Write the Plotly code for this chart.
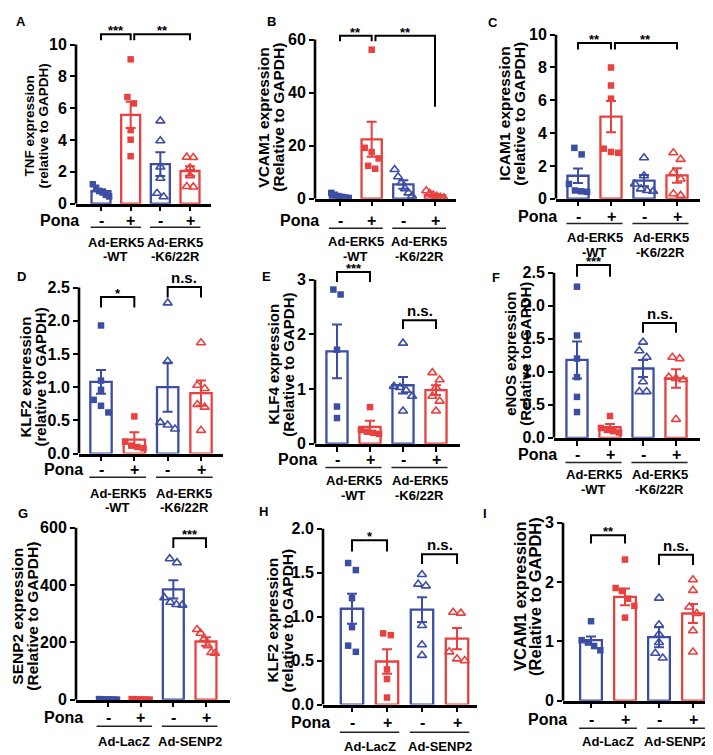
import plotly.graph_objects as go

W, H = 713, 755
BLUE = "#3b4ea3"
RED = "#e8413f"
FONT = "Liberation Sans, Arial, Helvetica, sans-serif"

# ---------------- data ----------------
pona_ticks = ["-", "+", "-", "+"]
groups_erk = [("Ad-ERK5", "-WT"), ("Ad-ERK5", "-K6/22R")]
groups_senp = [("Ad-LacZ", ""), ("Ad-SENP2", "")]

A_title = ["TNF expression", "(relative to GAPDH)"]
A_means = [0.78, 5.58, 2.48, 2.05]
A_sems = [0.12, 0.82, 0.75, 0.30]
A_points = [[1.22, 1.0, 0.8, 0.7, 0.55, 0.45],
            [9.07, 6.7, 6.3, 4.62, 4.02, 2.98],
            [5.2, 3.95, 2.3, 1.6, 0.65, 0.43],
            [2.92, 2.9, 2.25, 1.75, 1.08, 1.05]]
A_ticks = [0, 2, 4, 6, 8, 10]
A_brackets = [(0, 1, 10.64, 10.27, 10.27, "***"), (1, 3, 10.64, 10.27, 10.27, "**")]

B_title = ["VCAM1 expression", "(Relative to GAPDH)"]
B_means = [1.0, 22.4, 5.4, 1.3]
B_sems = [0.3, 6.6, 1.6, 0.4]
B_points = [[2.2, 1.5, 1.0, 0.7, 0.5, 0.3],
            [56.2, 19.2, 17.6, 15.2, 12.4, 11.3],
            [11.0, 8.3, 6.0, 3.8, 2.2, 1.0],
            [3.0, 2.0, 1.4, 0.9, 0.5, 0.3]]
B_ticks = [0, 20, 40, 60]
B_brackets = [(0, 1, 61.5, 59.4, 59.4, "**"), (1, 3, 61.5, 59.4, 34.7, "**")]

C_title = ["ICAM1 expression", "(relative to GAPDH)"]
C_means = [1.4, 5.0, 1.1, 1.42]
C_sems = [0.44, 0.95, 0.34, 0.44]
C_points = [[3.1, 2.7, 0.9, 0.5, 0.45, 0.42],
            [8.0, 6.9, 6.1, 3.05, 2.85, 2.8],
            [2.5, 1.4, 0.9, 0.6, 0.5, 0.45],
            [2.8, 2.4, 1.6, 1.2, 0.3, 0.2]]
C_ticks = [0, 2, 4, 6, 8, 10]
C_brackets = [(0, 1, 9.5, 9.1, 9.1, "**"), (1, 3, 9.5, 9.1, 9.1, "**")]

D_title = ["KLF2 expression", "(relative to GAPDH)"]
D_means = [1.08, 0.21, 1.0, 0.91]
D_sems = [0.18, 0.11, 0.37, 0.19]
D_points = [[1.93, 1.1, 0.96, 0.81, 0.72, 0.62],
            [0.56, 0.18, 0.12, 0.1, 0.08],
            [2.27, 1.39, 0.47, 0.43, 0.37],
            [1.67, 1.03, 0.98, 0.74, 0.7, 0.35]]
D_ticks = [0.0, 0.5, 1.0, 1.5, 2.0, 2.5]
D_brackets = [(0, 1, 2.36, 2.2, 2.2, "*"), (2, 3, 2.51, 2.35, 2.35, "n.s.")]

E_title = ["KLF4 expression", "(Relative to GAPDH)"]
E_means = [1.69, 0.31, 1.07, 0.98]
E_sems = [0.49, 0.11, 0.15, 0.09]
E_points = [[2.82, 2.73, 1.72, 0.68, 0.47],
            [0.67, 0.25, 0.22, 0.2, 0.18],
            [1.84, 1.05, 1.03, 0.98, 0.87, 0.6],
            [1.3, 1.17, 1.03, 0.87, 0.78, 0.6]]
E_ticks = [0, 1, 2, 3]
E_brackets = [(0, 1, 3.14, 2.96, 2.96, "***"), (2, 3, 2.26, 2.1, 2.1, "n.s.")]

F_title = ["eNOS expression", "(Relative to GAPDH)"]
F_means = [1.18, 0.16, 1.05, 0.9]
F_sems = [0.28, 0.05, 0.13, 0.14]
F_points = [[2.29, 1.55, 1.2, 0.92, 0.62, 0.39],
            [0.33, 0.15, 0.12, 0.1, 0.08],
            [1.45, 1.32, 1.22, 0.85, 0.7, 0.7],
            [1.22, 1.2, 0.92, 0.9, 0.88, 0.28]]
F_ticks = [0.0, 0.5, 1.0, 1.5, 2.0, 2.5]
F_brackets = [(0, 1, 2.62, 2.44, 2.44, "***"), (2, 3, 1.74, 1.59, 1.59, "n.s.")]

G_title = ["SENP2 expression", "(Relative to GAPDH)"]
G_means = [1.0, 1.0, 385, 203]
G_sems = [0.3, 0.3, 32, 15]
G_points = [[2.0, 1.5, 1.0, 0.8, 0.5, 0.3],
            [2.0, 1.5, 1.0, 0.8, 0.5, 0.3],
            [492, 478, 356, 340, 332, 330],
            [245, 232, 213, 188, 165, 162]]
G_ticks = [0, 200, 400, 600]
G_brackets = [(2, 3, 563, 529, 529, "***")]

H_title = ["KLF2 expression", "(relative to GAPDH)"]
H_means = [1.09, 0.49, 1.08, 0.75]
H_sems = [0.17, 0.14, 0.14, 0.12]
H_points = [[1.61, 1.53, 1.21, 0.88, 0.67, 0.6],
            [0.81, 0.79, 0.4, 0.29, 0.08],
            [1.48, 1.37, 1.35, 0.9, 0.68, 0.56],
            [1.05, 1.04, 0.6, 0.52, 0.5]]
H_ticks = [0.0, 0.5, 1.0, 1.5, 2.0]
H_brackets = [(0, 1, 1.87, 1.74, 1.74, "*"), (2, 3, 1.71, 1.6, 1.6, "n.s.")]

I_title = ["VCAM1 expression", "(Relative to GAPDH)"]
I_means = [1.02, 1.75, 1.07, 1.47]
I_sems = [0.06, 0.14, 0.17, 0.16]
I_points = [[1.34, 1.02, 0.98, 0.92, 0.85],
            [2.38, 1.9, 1.85, 1.72, 1.6, 1.4],
            [1.73, 1.28, 1.12, 0.98, 0.8, 0.72],
            [2.04, 1.86, 1.58, 1.47, 1.18, 0.82]]
I_ticks = [0, 1, 2, 3]
I_brackets = [(0, 1, 2.79, 2.65, 2.65, "**"), (2, 3, 2.46, 2.29, 2.29, "n.s.")]

# ---------------- layout geometry (pixels) ----------------
GEOM = [
    dict(L="A", d=(A_title, A_means, A_sems, A_points, A_ticks, A_brackets, groups_erk),
         ax=(68, 203), bars=(93, 122, 152, 182), y0=198, yt=37, pona=(73, 215), ul=222, lab=237,
         tt=(22, 36, 120, 13.5), let=(13, 14), fmt="{:g}"),
    dict(L="B", d=(B_title, B_means, B_sems, B_points, B_ticks, B_brackets, groups_erk),
         ax=(307, 448), bars=(332, 364, 396, 427), y0=193, yt=32, pona=(313, 215), ul=223, lab=236,
         tt=(256, 271, 111, 15.5), let=(263, 14), fmt="{:g}"),
    dict(L="C", d=(C_title, C_means, C_sems, C_points, C_ticks, C_brackets, groups_erk),
         ax=(548, 692), bars=(570, 603, 637, 669), y0=193, yt=27, pona=(551, 211), ul=218, lab=232,
         tt=(497, 512, 107, 15.5), let=(485, 15), fmt="{:g}"),
    dict(L="D", d=(D_title, D_means, D_sems, D_points, D_ticks, D_brackets, groups_erk),
         ax=(71, 215), bars=(93, 126, 162, 193), y0=451, yt=283, pona=(77, 467), ul=475, lab=491,
         tt=(18, 33, 374, 15), let=(13, 272), fmt="{:.1f}"),
    dict(L="E", d=(E_title, E_means, E_sems, E_points, E_ticks, E_brackets, groups_erk),
         ax=(307, 452), bars=(329, 362, 395, 428), y0=441, yt=275, pona=(311, 457), ul=465, lab=478,
         tt=(266, 281, 361, 15), let=(258, 272), fmt="{:g}"),
    dict(L="F", d=(F_title, F_means, F_sems, F_points, F_ticks, F_brackets, groups_erk),
         ax=(546, 692), bars=(569, 603, 635, 668), y0=435, yt=268, pona=(551, 452), ul=460, lab=472,
         tt=(503, 518, 350, 15), let=(488, 273), fmt="{:.1f}"),
    dict(L="G", d=(G_title, G_means, G_sems, G_points, G_ticks, G_brackets, groups_senp),
         ax=(68, 222), bars=(100, 132, 164, 198), y0=700, yt=526, pona=(77, 718), ul=727, lab=742,
         tt=(10, 25, 616, 15.5), let=(15, 512), fmt="{:g}"),
    dict(L="H", d=(H_title, H_means, H_sems, H_points, H_ticks, H_brackets, groups_senp),
         ax=(315, 469), bars=(344, 380, 416, 449), y0=705, yt=527, pona=(324, 723), ul=733, lab=747,
         tt=(265, 280, 620, 15.5), let=(255, 510), fmt="{:.1f}"),
    dict(L="I", d=(I_title, I_means, I_sems, I_points, I_ticks, I_brackets, groups_senp),
         ax=(555, 710), bars=(583, 615, 653, 685), y0=701, yt=521, pona=(561, 720), ul=729, lab=742,
         tt=(512, 527, 596, 16.5), let=(477, 512), fmt="{:g}"),
]


def fx(px):
    return px / W


def fy(py):
    return 1 - py / H


def bold(t):
    return f"<b>{t}</b>"


def swarm(vals, ymax, dx=0.22, thr=0.045):
    order = sorted(range(len(vals)), key=lambda i: -vals[i])
    offs = [0.0] * len(vals)
    clusters = []
    for i in order:
        if clusters and abs(vals[clusters[-1][-1]] - vals[i]) < thr * ymax:
            clusters[-1].append(i)
        else:
            clusters.append([i])
    for c in clusters:
        n = len(c)
        step = dx if n < 4 else min(dx, 0.55 / (n - 1))
        for k, i in enumerate(c):
            offs[i] = (k - (n - 1) / 2) * step
    return offs


fig = go.Figure()
layout = dict(width=W, height=H, margin=dict(l=0, r=0, t=0, b=0),
              paper_bgcolor="white", plot_bgcolor="rgba(0,0,0,0)",
              showlegend=False, barmode="overlay",
              font=dict(family=FONT, color="black"))
shapes, annots = [], []
colors = [BLUE, RED, BLUE, RED]
symbols = ["square", "square", "triangle-up-open", "triangle-up-open"]

for n, g in enumerate(GEOM, start=1):
    title, means, sems, points, ticks, brackets, groups = g["d"]
    xid = "x" if n == 1 else f"x{n}"
    yid = "y" if n == 1 else f"y{n}"
    xk = "xaxis" if n == 1 else f"xaxis{n}"
    yk = "yaxis" if n == 1 else f"yaxis{n}"
    ymax = ticks[-1]
    b = g["bars"]
    s = (b[3] - b[0]) / 3
    r0 = (g["ax"][0] - b[0]) / s
    r1 = (g["ax"][1] - b[0]) / s
    k = (g["y0"] - g["yt"]) / ymax
    top_px = max(2, g["yt"] - 34)
    ytop_range = (g["y0"] - top_px) / k

    cats = [0, 1, 2, 3]
    for ci, col in ((0, BLUE), (1, RED)):
        idx = [ci, ci + 2]
        fig.add_trace(go.Bar(
            x=[cats[i] for i in idx], y=[means[i] for i in idx], width=0.64,
            marker=dict(color="white", line=dict(color=col, width=2.3)),
            error_y=dict(type="data", array=[sems[i] for i in idx], color=col,
                         thickness=2, width=5),
            xaxis=xid, yaxis=yid, hoverinfo="skip"))
    for i in range(4):
        offs = swarm(points[i], ymax)
        tri = i >= 2
        fig.add_trace(go.Scatter(
            x=[cats[i] + o for o in offs], y=points[i], mode="markers",
            marker=dict(symbol=symbols[i], size=8 if tri else 6.5, color=colors[i],
                        line=dict(color=colors[i], width=1.6 if tri else 0)),
            xaxis=xid, yaxis=yid, hoverinfo="skip", cliponaxis=False))

    layout[xk] = dict(domain=[fx(g["ax"][0]), fx(g["ax"][1])], range=[r0, r1],
                      anchor=yid, showline=True, linewidth=2.6, linecolor="black",
                      ticks="outside", ticklen=5, tickwidth=2, tickcolor="black",
                      tickvals=cats, showticklabels=False,
                      showgrid=False, zeroline=False, fixedrange=True)
    layout[yk] = dict(domain=[fy(g["y0"]), fy(top_px)], range=[0, ytop_range],
                      anchor=xid, showline=False, ticks="outside", ticklen=5,
                      tickwidth=2, tickcolor="black", tickvals=ticks,
                      ticktext=[bold(g["fmt"].format(t)) for t in ticks],
                      tickfont=dict(size=16, family=FONT, color="black"),
                      ticklabelstandoff=0,
                      showgrid=False, zeroline=False, fixedrange=True)
    shapes.append(dict(type="line", xref=f"{xid} domain", yref=yid, x0=0, x1=0,
                       y0=0, y1=ymax, line=dict(color="black", width=2.6)))
    prev_end = None
    for (i, j, yt, yl, yr, lab) in brackets:
        xa = i + (0.12 if prev_end == i else 0)
        xb = j
        shapes.append(dict(type="path", xref=xid, yref=yid,
                           path=f"M {xa},{yl} L {xa},{yt} L {xb},{yt} L {xb},{yr}",
                           line=dict(color="black", width=2)))
        star = "*" in lab
        annots.append(dict(x=(xa + xb) / 2, y=yt, xref=xid, yref=yid, text=bold(lab),
                           showarrow=False, yanchor="bottom", yshift=-6 if star else -1,
                           font=dict(size=13 if star else 15, family=FONT)))
        prev_end = j
    annots.append(dict(x=fx(g["pona"][0]), y=fy(g["pona"][1]), xref="paper", yref="paper",
                       text=bold("Pona"), showarrow=False, xanchor="right", yanchor="middle",
                       font=dict(size=16, family=FONT)))
    for ci, t in zip(cats, pona_ticks):
        annots.append(dict(x=ci, y=fy(g["pona"][1]), xref=xid, yref="paper",
                           text=bold(t), showarrow=False, yanchor="middle",
                           font=dict(size=16, family=FONT)))
    for gi, (l1, l2) in enumerate(groups):
        c = 0.5 + 2 * gi
        shapes.append(dict(type="line", xref=xid, yref="paper", x0=c - 0.85, x1=c + 0.85,
                           y0=fy(g["ul"]), y1=fy(g["ul"]),
                           line=dict(color="#222222", width=1.5)))
        annots.append(dict(x=c, y=fy(g["lab"]), xref=xid, yref="paper", text=bold(l1),
                           showarrow=False, yanchor="middle",
                           font=dict(size=13, family=FONT)))
        if l2:
            annots.append(dict(x=c, y=fy(g["lab"] + 15), xref=xid, yref="paper", text=bold(l2),
                               showarrow=False, yanchor="middle",
                               font=dict(size=13, family=FONT)))
    x1, x2, yc, sz = g["tt"]
    for xp, txt in ((x1, title[0]), (x2, title[1])):
        annots.append(dict(x=fx(xp), y=fy(yc), xref="paper", yref="paper", text=bold(txt),
                           textangle=-90, showarrow=False, xanchor="center", yanchor="middle",
                           font=dict(size=sz, family=FONT)))
    annots.append(dict(x=fx(g["let"][0]), y=fy(g["let"][1]), xref="paper", yref="paper",
                       text=bold(g["L"]), showarrow=False, xanchor="center", yanchor="middle",
                       font=dict(size=13, family=FONT)))

layout["shapes"] = shapes
layout["annotations"] = annots
fig.update_layout(**layout)
fig.write_html("out.html")
